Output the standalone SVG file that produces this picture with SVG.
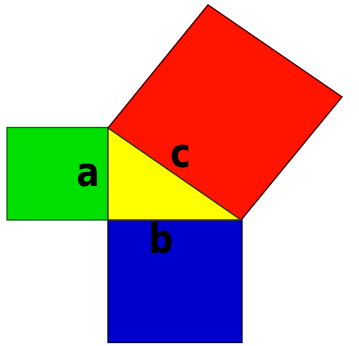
<svg xmlns="http://www.w3.org/2000/svg" width="359" height="346" viewBox="0 0 359 346">
<style>
.s{stroke-width:1.3;stroke-linejoin:miter}
.t{font-family:"DejaVu Sans",sans-serif;font-weight:bold;font-size:34px;fill:#000}
</style>
<rect width="359" height="346" fill="#fff"/>
<g id="squareA"><rect class="s" x="7" y="127.5" width="101" height="92.5" fill="#00e000" stroke="#1a5a1a"/></g>
<g id="squareB"><rect class="s" x="108" y="220" width="134" height="122.5" fill="#0000cc" stroke="#000044"/></g>
<g id="squareC"><polygon class="s" points="108,128 208,5 342,97 241,220" fill="#ff1400" stroke="#4a0000"/></g>
<g id="triangle"><polygon class="s" points="108,128 108,220 241,220" fill="#ffff00" stroke="#333"/></g>
<g id="labels">
<text class="t" transform="translate(76.5,185.5) scale(1,1.2)">a</text>
<text class="t" transform="translate(170,167) scale(1,1.2)">c</text>
<text class="t" transform="translate(149,253) scale(1,1.2)">b</text>
</g>
</svg>
